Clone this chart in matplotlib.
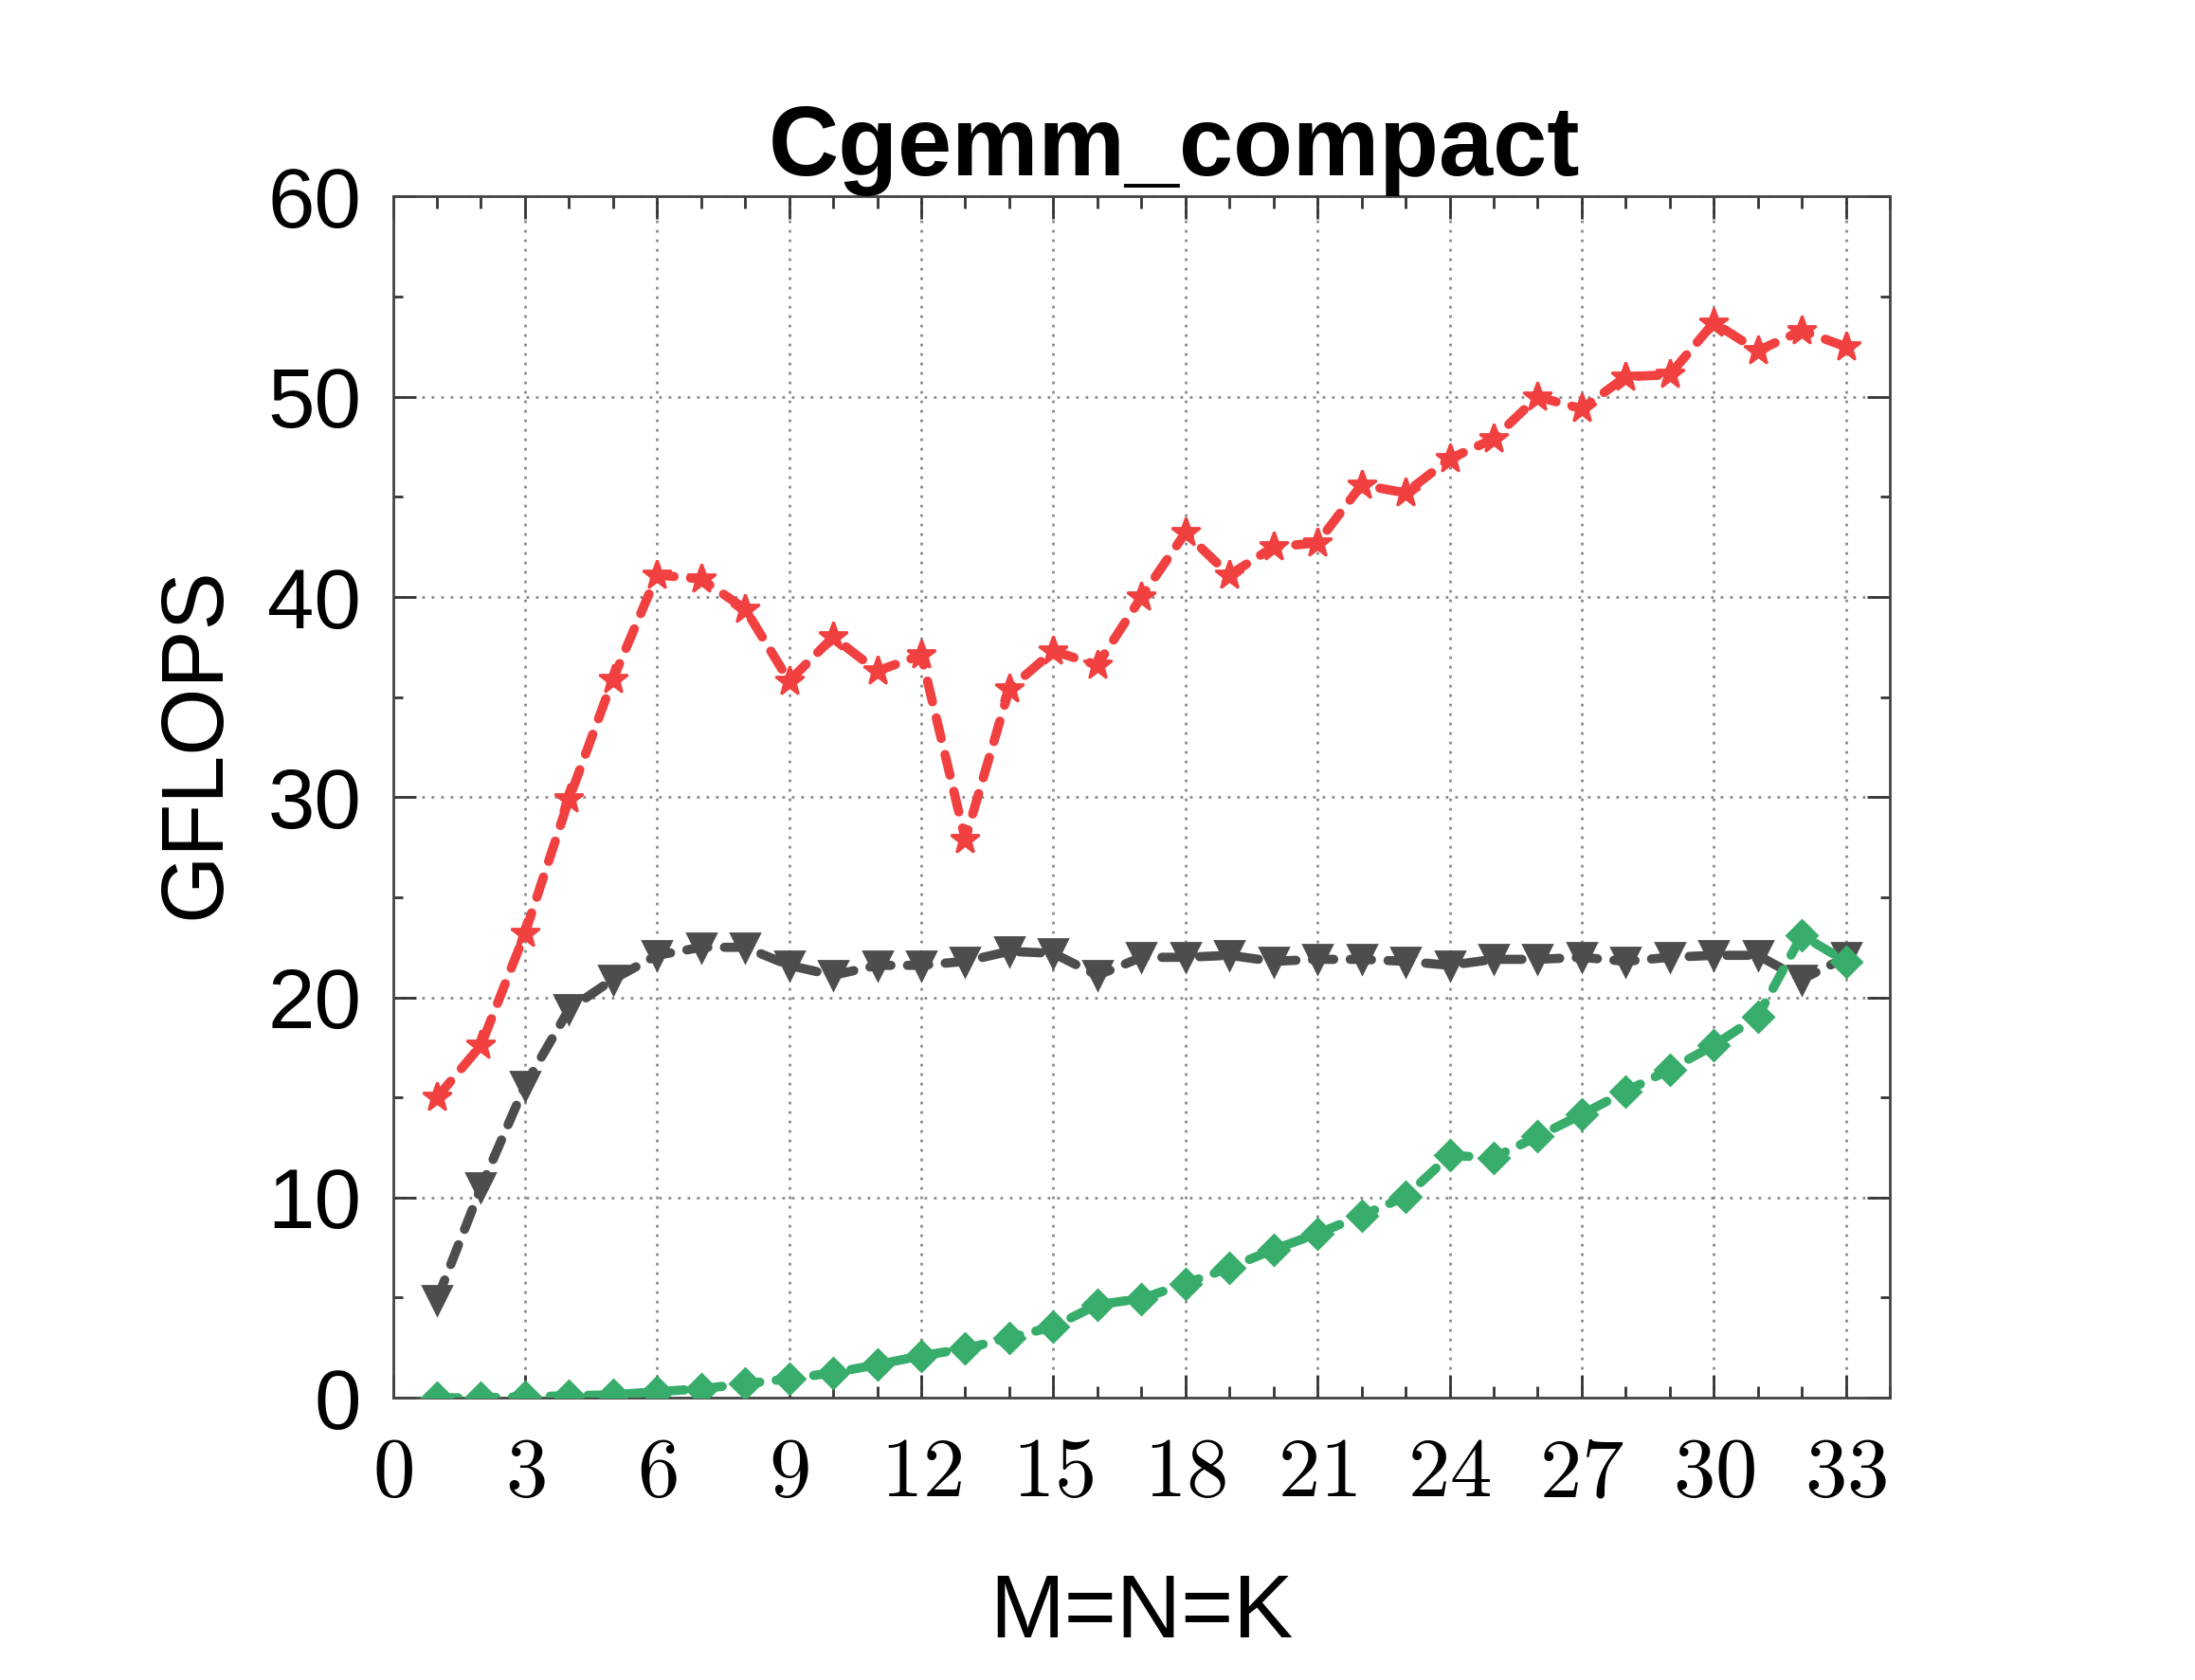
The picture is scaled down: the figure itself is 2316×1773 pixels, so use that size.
import matplotlib.pyplot as plt
from matplotlib.ticker import MultipleLocator, FuncFormatter

plt.rcParams['font.family'] = ['Liberation Sans', 'DejaVu Sans']
plt.rcParams['mathtext.fontset'] = 'cm'

sizes = list(range(1, 34))
red_vals = [15.0, 17.6, 23.2, 29.9, 35.9, 41.1, 40.9, 39.4, 35.8, 38.0, 36.3,
            37.1, 27.9, 35.4, 37.3, 36.6, 40.0, 43.2, 41.1, 42.5, 42.7, 45.6,
            45.2, 46.9, 47.9, 50.0, 49.4, 51.0, 51.1, 53.7, 52.3, 53.3, 52.5]
gray_vals = [4.9, 10.5, 15.6, 19.4, 20.9, 22.1, 22.5, 22.5, 21.6, 21.1, 21.6,
             21.6, 21.8, 22.3, 22.2, 21.1, 22.0, 22.0, 22.1, 21.8, 21.9, 21.9,
             21.8, 21.6, 21.9, 21.9, 22.0, 21.8, 22.0, 22.1, 22.1, 20.9, 22.0]
green_vals = [0.0, 0.0, 0.05, 0.1, 0.15, 0.3, 0.45, 0.7, 0.95, 1.25, 1.65,
              2.1, 2.45, 3.0, 3.55, 4.65, 4.95, 5.7, 6.5, 7.4, 8.2, 9.1,
              10.05, 12.1, 12.0, 13.05, 14.15, 15.3, 16.4, 17.6, 19.05, 23.1, 21.8]

fig = plt.figure(figsize=(11.58, 8.865), dpi=200)
ax = fig.add_axes([0.179, 0.168, 0.682, 0.715])

lw = 3.5
dash = (2.3, 1.8)
ax.plot(sizes, red_vals, color='#f04040', lw=lw, ls='--', dashes=dash,
        dash_capstyle='round', marker='*', ms=11.5, zorder=3)
ax.plot(sizes, gray_vals, color='#4d4d4d', lw=lw, ls='--', dashes=dash,
        dash_capstyle='round', marker='v', ms=11, zorder=3)
ax.plot(sizes, green_vals, color='#38ad6b', lw=lw, ls='--', dashes=dash,
        dash_capstyle='round', marker='D', ms=8.3, zorder=4)

ax.set_xlim(0, 34)
ax.set_ylim(0, 60)
ax.xaxis.set_major_locator(MultipleLocator(3))
ax.xaxis.set_minor_locator(MultipleLocator(1))
ax.yaxis.set_major_locator(MultipleLocator(10))
ax.yaxis.set_minor_locator(MultipleLocator(5))
ax.xaxis.set_major_formatter(FuncFormatter(lambda v, p: '$%d$' % v))

ax.tick_params(which='both', direction='in', top=True, right=True,
               color='#333333', width=1)
ax.tick_params(which='major', length=8.5)
ax.tick_params(axis='x', which='minor', length=4.5)
ax.tick_params(axis='y', which='minor', length=3.5)
ax.tick_params(axis='y', labelsize=32, pad=12)
ax.tick_params(axis='x', labelsize=32, pad=14)

ax.grid(True, which='major', ls=(0, (1, 2.6)), color='#8a8a8a', lw=1.0)
for s in ax.spines.values():
    s.set_color('#444444')
    s.set_linewidth(1)

ax.set_title('Cgemm_compact', fontsize=37, fontweight='bold', pad=6, x=0.522)
ax.set_xlabel('M=N=K', fontsize=34, labelpad=22)
ax.set_ylabel('GFLOPS', fontsize=33)
ax.yaxis.set_label_coords(-0.104, 0.545)

fig.savefig('out.png', dpi=200)
